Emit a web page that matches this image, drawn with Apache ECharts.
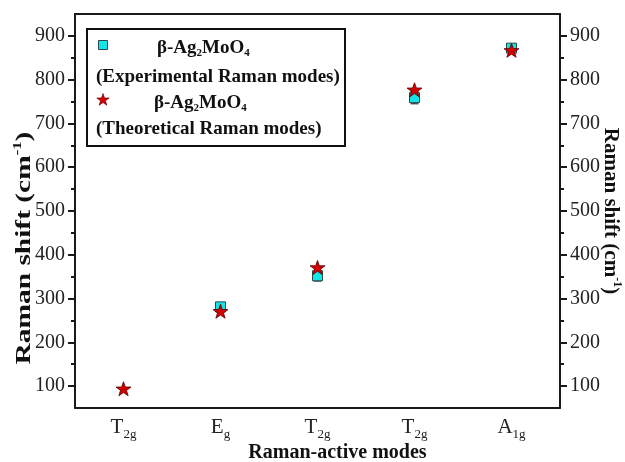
<!DOCTYPE html>
<html>
<head>
<meta charset="utf-8">
<script src="https://cdn.jsdelivr.net/npm/echarts@6/dist/echarts.min.js"></script>
<style>html,body{margin:0;padding:0;background:#fff}#c{width:625px;height:462px}</style>
</head>
<body>
<div id="c"></div>
<script>
// ---- data ----
var categories = ['T_2g', 'E_g', 'T_2g', 'T_2g', 'A_1g'];
var expIndex = [1, 2, 3, 4];
var expValues = [281, 352, 759, 872];
var expErrors = [7, 12, 14, 5];
var theoIndex = [0, 1, 2, 3, 4];
var theoValues = [94, 271, 371, 777, 867];
var majorTicks = [100, 200, 300, 400, 500, 600, 700, 800, 900];
var minorTicks = [150, 250, 350, 450, 550, 650, 750, 850];
var yTitle = '{t|Raman shift (cm}{u|-1}{t|)}';

var SERIF = '"Liberation Serif","DejaVu Serif",serif';
var STAR = 'path://M100,0 L123.5,67.6 L195.1,69.1 L138,112.4 L158.8,180.9 L100,140 L41.2,180.9 L62,112.4 L4.9,69.1 L76.5,67.6 Z';

function starPoints(cx, cy, R, r) {
  var pts = [];
  for (var k = 0; k < 10; k++) {
    var a = -Math.PI / 2 + k * Math.PI / 5;
    var rad = k % 2 === 0 ? R : r;
    pts.push([cx + rad * Math.cos(a), cy + rad * Math.sin(a)]);
  }
  return pts;
}

var chart = echarts.init(document.getElementById('c'));

var titleRich = {
  t: {fontFamily: SERIF, fontWeight: 'bold', fontSize: 21, color: '#111', fill: '#111', lineHeight: 26},
  u: {fontFamily: SERIF, fontWeight: 'bold', fontSize: 12, color: '#111', fill: '#111', verticalAlign: 'top', lineHeight: 26}
};

function yAx(pos, ticks, len, showLabel, showLine, name) {
  return {
    type: 'value', position: pos, min: 50, max: 950, interval: 50,
    splitLine: {show: false},
    axisLine: {show: showLine, onZero: false, lineStyle: {color: '#1a1a1a', width: 2}},
    axisTick: {show: true, inside: false, length: len, customValues: ticks, lineStyle: {color: '#1a1a1a', width: 2}},
    axisLabel: {show: showLabel, customValues: majorTicks, margin: 10, fontFamily: SERIF, fontSize: 20, color: '#222'},
    name: name || '',
    nameLocation: 'middle',
    nameMoveOverlap: false,
    nameRotate: pos === 'left' ? 90 : -90,
    nameGap: 37,
    nameTextStyle: {rich: titleRich}
  };
}

var catRich = {
  m: {fontFamily: SERIF, fontSize: 21, color: '#222', lineHeight: 28},
  s: {fontFamily: SERIF, fontSize: 13, color: '#222', lineHeight: 12, verticalAlign: 'bottom'}
};
var legRich = {
  b: {fontFamily: SERIF, fontWeight: 'bold', fontSize: 19, fill: '#111', lineHeight: 22},
  s: {fontFamily: SERIF, fontWeight: 'bold', fontSize: 11, fill: '#111', lineHeight: 8, verticalAlign: 'bottom'}
};

var option = {
  animation: false,
  backgroundColor: '#fff',
  grid: {left: 75, right: 65, top: 14, bottom: 54, containLabel: false, outerBoundsMode: 'none'},
  xAxis: [{
    type: 'category', data: categories, position: 'bottom', boundaryGap: true,
    axisLine: {lineStyle: {color: '#1a1a1a', width: 2}},
    axisTick: {alignWithLabel: true, length: 6, lineStyle: {color: '#1a1a1a', width: 2}},
    axisLabel: {
      margin: 5, interval: 0,
      formatter: function (v) { var p = v.split('_'); return '{m|' + p[0] + '}{s|' + p[1] + '}'; },
      rich: catRich
    },
    name: 'Raman-active modes', nameLocation: 'middle', nameGap: 35, nameMoveOverlap: false,
    nameTextStyle: {fontFamily: SERIF, fontWeight: 'bold', fontSize: 20, color: '#111', padding: [0, 0, 0, 40]}
  }, {
    type: 'category', data: categories, position: 'top', boundaryGap: true,
    axisLine: {lineStyle: {color: '#1a1a1a', width: 2}},
    axisTick: {alignWithLabel: true, inside: true, length: 6, lineStyle: {color: '#1a1a1a', width: 2}},
    axisLabel: {show: false}
  }],
  yAxis: [
    yAx('left', majorTicks, 7, true, true, ''),
    yAx('right', majorTicks, 7, true, true, yTitle),
    yAx('left', minorTicks, 4, false, false, ''),
    yAx('right', minorTicks, 4, false, false, '')
  ],
  series: [{
    type: 'custom', name: 'err', xAxisIndex: 0, yAxisIndex: 0, z: 2,
    data: expIndex.map(function (x, i) { return [x, expValues[i] - expErrors[i], expValues[i] + expErrors[i]]; }),
    renderItem: function (params, api) {
      var lo = api.coord([api.value(0), api.value(1)]);
      var hi = api.coord([api.value(0), api.value(2)]);
      var w = 4;
      var st = {stroke: '#333', lineWidth: 1.2};
      return {type: 'group', children: [
        {type: 'line', shape: {x1: lo[0], y1: lo[1], x2: hi[0], y2: hi[1]}, style: st},
        {type: 'line', shape: {x1: lo[0] - w, y1: lo[1], x2: lo[0] + w, y2: lo[1]}, style: st},
        {type: 'line', shape: {x1: hi[0] - w, y1: hi[1], x2: hi[0] + w, y2: hi[1]}, style: st}
      ]};
    }
  }, {
    type: 'scatter', name: 'Experimental', xAxisIndex: 0, yAxisIndex: 0, z: 3,
    symbol: 'rect', symbolSize: 10,
    itemStyle: {color: '#10e6e6', borderColor: '#2a4a50', borderWidth: 1, opacity: 1},
    data: expIndex.map(function (x, i) { return [x, expValues[i]]; })
  }, {
    type: 'scatter', name: 'Theoretical', xAxisIndex: 0, yAxisIndex: 0, z: 4,
    symbol: STAR, symbolSize: [15, 14],
    itemStyle: {color: '#d00000', borderColor: '#5a0000', borderWidth: 0.8, opacity: 1},
    data: theoIndex.map(function (x, i) { return [x, theoValues[i]]; })
  }],
  graphic: [
    {type: 'text', x: 25, y: 248, rotation: Math.PI / 2, scaleX: 1.4, z: 11,
     style: {text: yTitle, align: 'center', verticalAlign: 'middle', rich: titleRich}},
    {type: 'rect', shape: {x: 87, y: 29, width: 258, height: 117}, style: {fill: '#fff', stroke: '#111', lineWidth: 2}, z: 10},
    {type: 'rect', shape: {x: 98.5, y: 40.5, width: 9, height: 9}, style: {fill: '#10e6e6', stroke: '#2a4a50', lineWidth: 1}, z: 11},
    {type: 'polygon', shape: {points: starPoints(103, 100, 6.5, 2.6)}, style: {fill: '#d00000', stroke: '#5a0000', lineWidth: 0.6}, z: 11},
    {type: 'text', x: 157, y: 48, z: 11, style: {text: '{b|β-Ag}{s|2}{b|MoO}{s|4}', verticalAlign: 'middle', rich: legRich}},
    {type: 'text', x: 96, y: 77, z: 11, style: {text: '(Experimental Raman modes)', verticalAlign: 'middle', font: 'bold 19px ' + SERIF, fill: '#111'}},
    {type: 'text', x: 154, y: 103, z: 11, style: {text: '{b|β-Ag}{s|2}{b|MoO}{s|4}', verticalAlign: 'middle', rich: legRich}},
    {type: 'text', x: 96, y: 129, z: 11, style: {text: '(Theoretical Raman modes)', verticalAlign: 'middle', font: 'bold 19px ' + SERIF, fill: '#111'}}
  ]
};
chart.setOption(option);
</script>
</body>
</html>
